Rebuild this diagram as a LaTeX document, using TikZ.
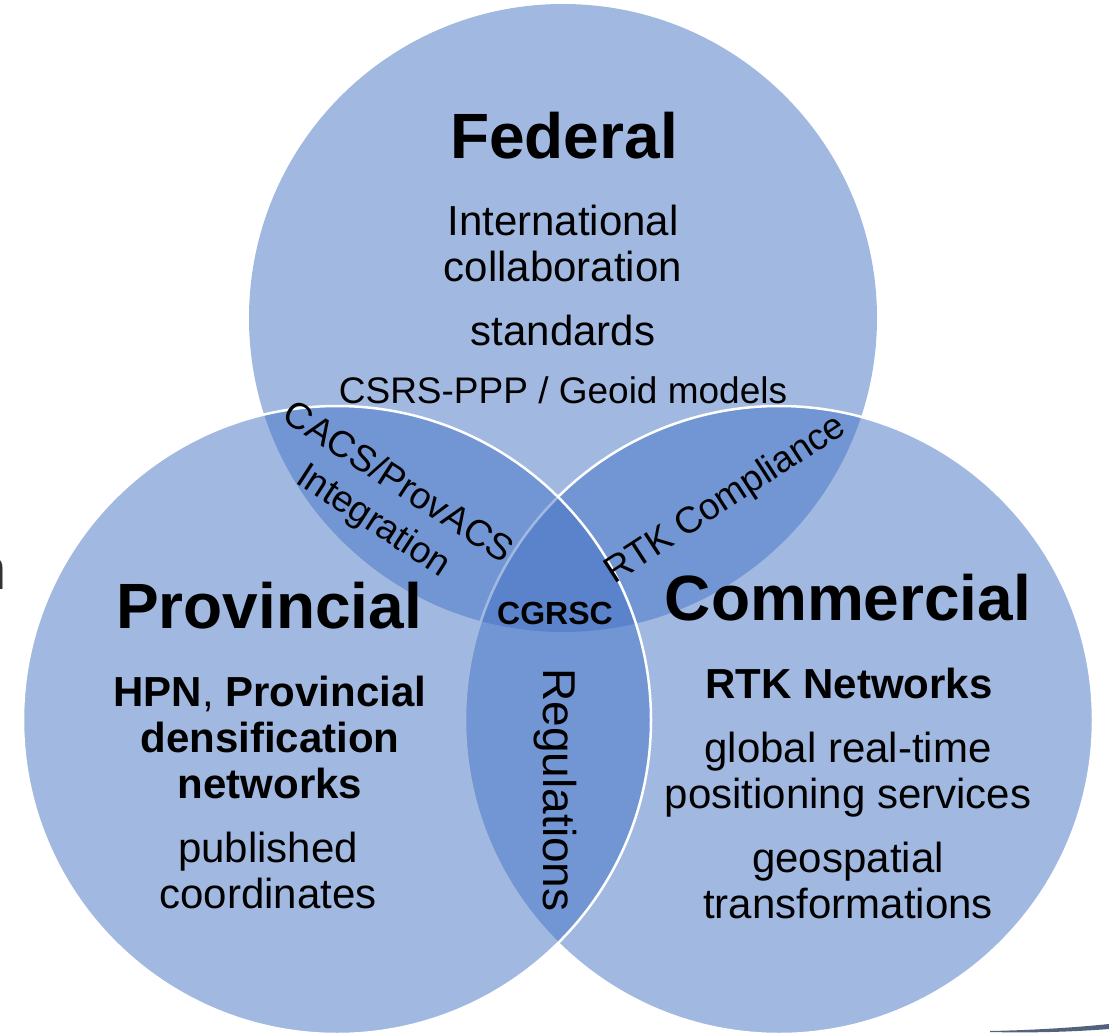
\documentclass[tikz,border=0pt]{standalone}
\usepackage{fontspec}
\setmainfont{Liberation Sans}
\usetikzlibrary{positioning}
\definecolor{vennblue}{HTML}{4472C4}

\tikzset{
  set/.style={circle, minimum size=628pt, inner sep=0pt, fill=vennblue, fill opacity=0.5, draw=white, line width=2.5pt},
  title/.style={font=\fontsize{64}{70}\selectfont\bfseries, inner sep=0pt, anchor=base},
  body/.style={font=\fontsize{42}{46}\selectfont, align=center, inner sep=0pt, anchor=base},
  overlap/.style={font=\fontsize{37}{45}\selectfont, align=center, inner sep=0pt}
}

\begin{document}
\begin{tikzpicture}[x=1pt, y=-1pt]
        \useasboundingbox (0,0) rectangle (1109,1036);

        % Circles (drawing order gives the white rims)
        \node[set, draw=none] (federal) at (563,318) {};
        \node[set] (commercial) at (779,720) {};
        \node[set] (provincial) at (337,720) {};

        % Federal (base of multi-line nodes = last line)
        \node[title] (fedtitle) at (564,158) {Federal};
        \node[body] (fedcollab) at (563,281) {International\\collaboration};
        \node[body] (fedstd) at (563,345) {standards};
        \node[body, font=\fontsize{37}{40}\selectfont] (fedppp) at (563,403) {CSRS-PPP / Geoid models};

        % Provincial
        \node[title] (provtitle) at (269,628) {Provincial};
        \node[body] (provhpn) at (270,798) {\textbf{HPN}, \textbf{Provincial}\\\textbf{densification}\\\textbf{networks}};
        \node[body] (provcoord) at (268,908) {published\\coordinates};

        % Commercial
        \node[title] (comtitle) at (848,620) {Commercial};
        \node[body, font=\fontsize{42}{46}\selectfont\bfseries] (comrtk) at (849,698) {RTK Networks};
        \node[body] (comglobal) at (848,808) {global real-time\\positioning services};
        \node[body] (comgeo) at (848,918) {geospatial\\transformations};

        % Overlaps
        \node[overlap, rotate=-33] (fedprov) at (385,503) {CACS/ProvACS\\Integration};
        \node[overlap, rotate=33] (fedcom) at (726,500) {RTK Compliance};
        \node[overlap, font=\fontsize{46}{50}\selectfont, rotate=-90] (provcom) at (555,790) {Regulations};
        \node[font=\fontsize{32}{36}\selectfont\bfseries, inner sep=0pt, anchor=base] (centre) at (555,624) {CGRSC};

        % Cut-off pieces at the edges
        \node[font=\fontsize{58}{60}\selectfont, inner sep=0pt, anchor=base east, text=black!80] (edgetext) at (7,589) {n};
        \fill[gray!60!vennblue!80!black] (990,1031) .. controls (1040,1030) and (1080,1027) .. (1109,1024) -- (1109,1029) .. controls (1070,1032) and (1030,1033) .. (990,1032) -- cycle;
\end{tikzpicture}
\end{document}
